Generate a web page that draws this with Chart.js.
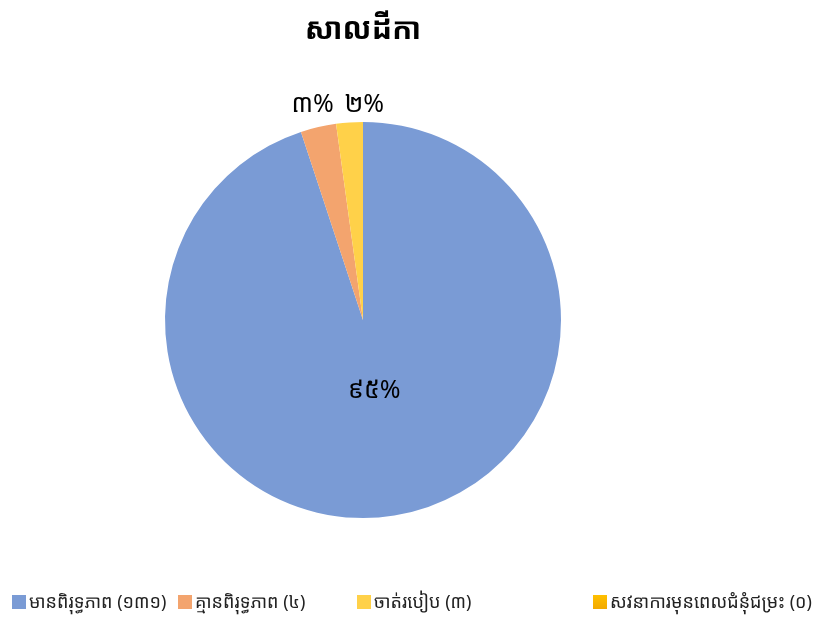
<!DOCTYPE html>
<html>
<head>
<meta charset="utf-8">
<script src="https://cdn.jsdelivr.net/npm/chart.js@4/dist/chart.umd.min.js"></script>
<style>
  html, body { margin: 0; padding: 0; background: #fff; }
  #wrap { width: 819px; height: 618px; }
</style>
</head>
<body>
<div id="wrap"><canvas id="myChart" width="819" height="618"></canvas></div>
<script>
// datos del grafico
var titulo = 'សាលដីកា';
var categorias = ['មានពិរុទ្ធភាព (១៣១)', 'គ្មានពិរុទ្ធភាព (៤)', 'ចាត់របៀប (៣)', 'សវនាការមុនពេលជំនុំជម្រះ (០)'];
var valores = [131, 4, 3, 0];
var etiquetas = ['៩៥%', '៣%', '២%', ''];
var colores = ['#7a9bd5', '#f3a46e', '#ffd149', '#f2b600'];

var fuente = '"Noto Sans Khmer", "Khmer OS", "Noto Sans", sans-serif';

// plugin para titulo, etiquetas y leyenda
var dibujos = {
    id: 'dibujos',
    afterDraw: function(chart){
        var ctx = chart.ctx;
        ctx.save();
        ctx.fillStyle = '#000';
        ctx.textAlign = 'center';
        ctx.textBaseline = 'middle';
        ctx.font = 'bold 30px ' + fuente;
        ctx.fillText(titulo, 363, 30);

        var arcos = chart.getDatasetMeta(0).data;
        ctx.font = '25px ' + fuente;
        var ultimoX = -1000;
        arcos.forEach(function(a, i){
            if (!etiquetas[i]) return;
            var p = a.getProps(['x','y','startAngle','endAngle','outerRadius']);
            var m = (p.startAngle + p.endAngle) / 2;
            var frac = (p.endAngle - p.startAngle) / (2*Math.PI);
            var r, x, y;
            if (frac > 0.2){
                r = p.outerRadius * 0.36;
                x = p.x + Math.cos(m)*r; y = p.y + Math.sin(m)*r;
            } else {
                r = p.outerRadius + 25;
                x = p.x + Math.cos(m)*r; y = p.y - p.outerRadius - 17;
                var w = ctx.measureText(etiquetas[i]).width;
                if (x < ultimoX + w + 12) x = ultimoX + w + 12;
                ultimoX = x;
            }
            ctx.fillText(etiquetas[i], x, y);
        });

        // leyenda
        var posX = [12, 178, 357, 593];
        ctx.font = '18px ' + fuente;
        ctx.textAlign = 'left';
        categorias.forEach(function(c, i){
            if (i == 3){
                var g = ctx.createLinearGradient(0, 595, 0, 609);
                g.addColorStop(0, '#ffc000'); g.addColorStop(1, '#f2a900');
                ctx.fillStyle = g;
            } else ctx.fillStyle = colores[i];
            ctx.fillRect(posX[i], 595, 14, 14);
            ctx.fillStyle = '#222';
            ctx.fillText(c, posX[i] + 17, 603);
        });
        ctx.restore();
    }
};

var ctx = document.getElementById('myChart').getContext('2d');
var chart = new Chart(ctx, {
    type: 'pie',
    data: {
        labels: categorias,
        datasets: [{
            data: valores,
            backgroundColor: colores,
            borderWidth: 0
        }]
    },
    options: {
        responsive: false,
        animation: false,
        layout: { padding: { top: 122, bottom: 100, left: 0, right: 93 } },
        plugins: {
            legend: { display: false },
            tooltip: { enabled: false }
        }
    },
    plugins: [dibujos]
});
</script>
</body>
</html>
